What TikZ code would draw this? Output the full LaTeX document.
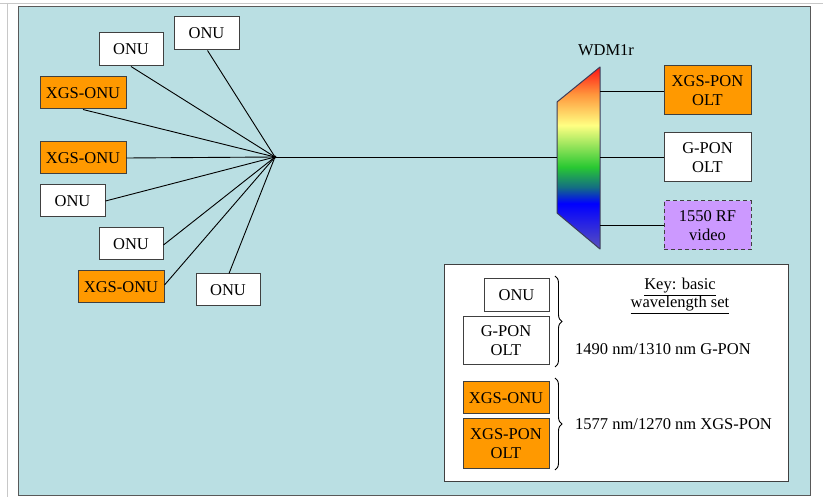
\documentclass[tikz,border=0pt]{standalone}
\usepackage{fontspec}
\setmainfont{Liberation Serif}
\usetikzlibrary{decorations.pathreplacing}
\definecolor{bgblue}{RGB}{186,223,227}
\definecolor{xorange}{RGB}{255,153,0}
\definecolor{vlav}{RGB}{204,153,255}
\definecolor{boxgray}{RGB}{64,64,64}
\definecolor{framegray}{RGB}{200,200,200}
\definecolor{wdmline}{RGB}{60,60,90}
\definecolor{spslate}{RGB}{90,80,190}
\definecolor{spblue}{RGB}{0,0,255}
\definecolor{spteal}{RGB}{20,110,130}
\definecolor{spgreen}{RGB}{40,200,50}
\definecolor{spyellow}{RGB}{255,255,130}
\definecolor{sporange}{RGB}{255,150,60}
\definecolor{spred}{RGB}{255,20,20}
\pgfdeclareverticalshading{spectrum}{100bp}{
  color(0bp)=(spslate);
  color(25bp)=(spslate);
  color(37.5bp)=(spblue);
  color(42bp)=(spteal);
  color(47.5bp)=(spgreen);
  color(59bp)=(spyellow);
  color(67.5bp)=(sporange);
  color(75bp)=(spred);
  color(100bp)=(spred)}
\tikzset{
  base/.style={draw=boxgray, line width=1pt, inner sep=0pt, align=center,
    font=\rmfamily\fontsize{16.5}{19}\selectfont},
  wbox/.style={base, fill=white},
  obox/.style={base, fill=xorange},
  vbox/.style={base, fill=vlav, dash pattern=on 4pt off 3pt},
  conn/.style={draw=black, line width=0.9pt},
  txt/.style={inner sep=0pt, font=\rmfamily\fontsize{16.5}{19}\selectfont}
}
\begin{document}
\begin{tikzpicture}[x=1pt,y=-1pt]
\useasboundingbox (0,0) rectangle (823,497);
% page frame
\draw[framegray, line width=0.8pt] (0,3) -- (823,3);
\draw[framegray, line width=0.8pt] (7,3) -- (7,497);
% background
\draw[fill=bgblue, draw=gray!70!black, line width=0.8pt] (18,6) rectangle (810.5,495);

% ONU nodes
\node[wbox, minimum width=64pt, minimum height=33pt] (onuA) at (131,49.5) {ONU};
\node[wbox, minimum width=65pt, minimum height=33pt] (onuB) at (206.5,33.5) {ONU};
\node[obox, minimum width=86pt, minimum height=32pt] (xgsA) at (83,93) {XGS-ONU};
\node[obox, minimum width=86pt, minimum height=32pt] (xgsB) at (83,158) {XGS-ONU};
\node[wbox, minimum width=65pt, minimum height=32pt] (onuC) at (72.5,201) {ONU};
\node[wbox, minimum width=64pt, minimum height=32pt] (onuD) at (131,244) {ONU};
\node[obox, minimum width=86pt, minimum height=32pt] (xgsC) at (121,287) {XGS-ONU};
\node[wbox, minimum width=64pt, minimum height=32pt] (onuE) at (228,290) {ONU};

% hub
\coordinate (hub) at (275,157);
\fill (hub) circle (1.6pt);
\draw[conn] (onuA.south) -- (hub);
\draw[conn] ([xshift=1pt]onuB.south) -- (hub);
\draw[conn] (xgsA.south) -- (hub);
\draw[conn] (xgsB.east) -- (hub);
\draw[conn] (onuC.east) -- (hub);
\draw[conn] ([yshift=-1pt]onuD.east) -- (hub);
\draw[conn] ([yshift=2pt]xgsC.east) -- (hub);
\draw[conn] ([xshift=1pt]onuE.north) -- (hub);

% WDM
\coordinate (wtl) at (557,102);
\coordinate (wbl) at (557,213);
\coordinate (wtr) at (600,67);
\coordinate (wbr) at (600,249);
\shade[shading=spectrum] (wtl) -- (wtr) -- (wbr) -- (wbl) -- cycle;
\draw[wdmline, line width=1pt, line join=round] (wtl) -- (wtr) -- (wbr) -- (wbl) -- cycle;
\node[txt] (wdmlabel) at (606,50) {WDM1r};
\coordinate (win) at (557,157);
\draw[conn] (hub) -- (win);

% OLT side
\node[obox, minimum width=87pt, minimum height=49pt] (xolt) at (707.5,90.5) {XGS-PON\\OLT};
\node[wbox, minimum width=87pt, minimum height=49pt] (golt) at (707.5,157.5) {G-PON\\OLT};
\node[vbox, minimum width=87pt, minimum height=49pt] (rf) at (707.5,225.5) {1550 RF\\video};
\coordinate (wo1) at (600,91);
\coordinate (wo2) at (600,157.5);
\coordinate (wo3) at (600,225.5);
\draw[conn] (wo1) -- (xolt.west |- wo1);
\draw[conn] (wo2) -- (golt.west);
\draw[conn] (wo3) -- (rf.west);

% Key
\node[draw=boxgray, fill=white, line width=1pt, minimum width=344pt, minimum height=216pt, inner sep=0pt] (keybox) at (616,373) {};
\node[wbox, minimum width=65pt, minimum height=33pt] (konu) at (516.5,295.5) {ONU};
\node[wbox, minimum width=86pt, minimum height=48pt] (kgolt) at (506,341) {G-PON\\OLT};
\node[obox, minimum width=86pt, minimum height=32pt] (kxonu) at (506,398) {XGS-ONU};
\node[obox, minimum width=86pt, minimum height=49pt] (kxolt) at (506,443.5) {XGS-PON\\OLT};
\draw[line width=0.9pt, decorate, decoration={brace, amplitude=7pt}] (555,276) -- (555,367);
\draw[line width=0.9pt, decorate, decoration={brace, amplitude=7pt}] (555,378) -- (555,470);
\node[txt, align=center] (keytitle) at (680,296) {\underline{Key: basic}\\[-1pt]\underline{wavelength set}};
\node[txt, anchor=west] (kg) at (575,349) {1490 nm/1310 nm G-PON};
\node[txt, anchor=west] (kx) at (575,424) {1577 nm/1270 nm XGS-PON};
\end{tikzpicture}
\end{document}
